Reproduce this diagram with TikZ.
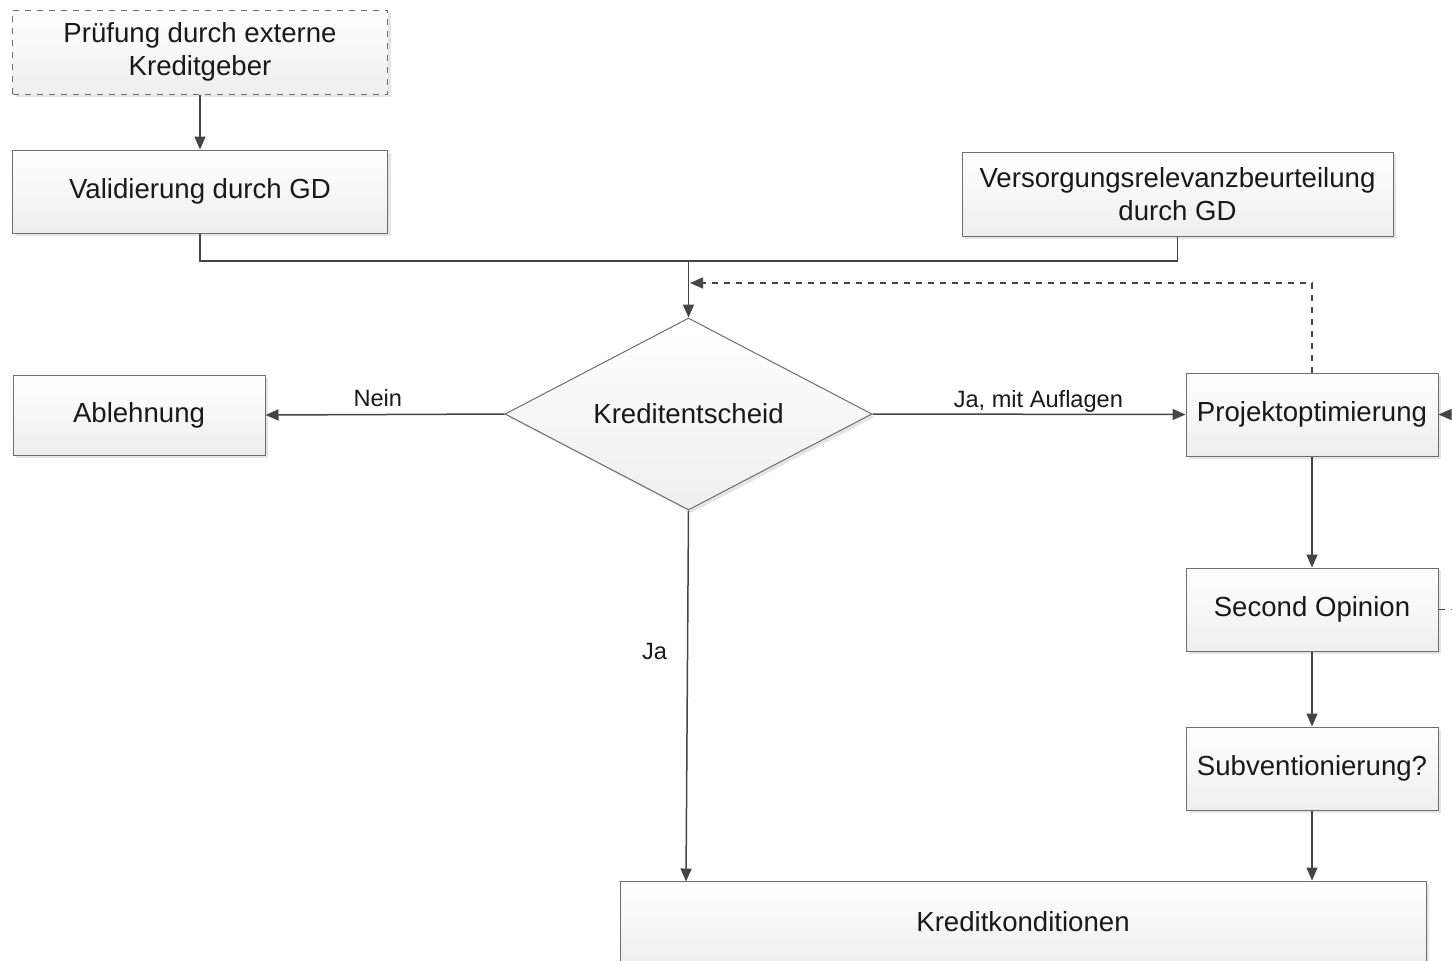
\documentclass[tikz,border=0pt]{standalone}
\usepackage{fontspec}
\setmainfont{Liberation Sans}
\usetikzlibrary{arrows.meta,shapes.geometric,shadows,calc}
\definecolor{lineC}{HTML}{454545}
\definecolor{borderC}{HTML}{6E6E6E}
\definecolor{shadeB}{HTML}{EEEEEE}
\begin{document}
\begin{tikzpicture}[x=0.5pt,y=-0.5pt,
  box/.style={draw=borderC,line width=0.5pt,top color=white,bottom color=shadeB,
    drop shadow={shadow xshift=1.5pt,shadow yshift=-1.5pt,fill=black!20,opacity=0.5},
    font=\fontsize{13.8}{16.5}\selectfont,text=black!90,align=center,inner sep=0pt},
  dec/.style={box,diamond,aspect=1.9},
  conn/.style={draw=lineC,line width=0.75pt},
  arr/.style={conn,-{Triangle[length=6.5pt,width=5.5pt]}},
  lbl/.style={font=\fontsize{11.8}{14}\selectfont,text=black!90,inner sep=0pt}]
\useasboundingbox (0,0) rectangle (1452,960);
% nodes
\node[box,dashed,minimum width=187.5pt,minimum height=42pt] (pr) at (200,52) {Prüfung durch externe\\Kreditgeber};
\node[box,minimum width=187.5pt,minimum height=41.5pt] (val) at (200,191.5) {Validierung durch GD};
\node[box,minimum width=215.5pt,minimum height=42pt] (ver) at (1177.5,194) {Versorgungsrelevanzbeurteilung\\durch GD};
\node[dec,minimum width=183.5pt,minimum height=96pt] (kd) at (688.5,414) {Kreditentscheid};
\node[box,minimum width=126pt,minimum height=40pt] (abl) at (139,415) {Ablehnung};
\node[box,minimum width=126pt,minimum height=41.5pt] (proj) at (1312,414.5) {Projektoptimierung};
\node[box,minimum width=126pt,minimum height=41.5pt] (so) at (1312,609.5) {Second Opinion};
\node[box,minimum width=126pt,minimum height=41.5pt] (sub) at (1312,768.5) {Subventionierung?};
\node[box,minimum width=403pt,minimum height=41pt] (kk) at (1023,922) {Kreditkonditionen};
% helper coordinates
\coordinate (j) at (688.5,261);
\coordinate (fb) at (690,283);
\coordinate (e1) at (1452,414.5);
\coordinate (e2) at (1452,609.5);
\coordinate (kkin) at (686,881.5);
% connectors
\draw[arr] (pr) -- (val);
\draw[conn] (val.south) |- (j) -| (ver.south);
\draw[arr] (j) -- (kd.north);
\draw[arr,dashed] (proj.north) |- (fb);
\draw[arr] (kd.west) -- node[lbl,yshift=8pt,pos=0.53]{Nein} (abl.east);
\draw[arr] (kd.east) -- node[lbl,yshift=6.5pt,pos=0.53]{Ja, mit Auflagen} (proj.west);
\draw[arr] (e1) -- (proj.east);
\draw[arr] (proj) -- (so);
\draw[conn,dashed] (so.east) -- (e2);
\draw[arr] (so) -- (sub);
\draw[arr] (sub.south) -- (sub.south |- kk.north);
\draw[arr] (kd.south) -- node[lbl,xshift=-16.5pt,pos=0.38]{Ja} (kkin);
\end{tikzpicture}
\end{document}
